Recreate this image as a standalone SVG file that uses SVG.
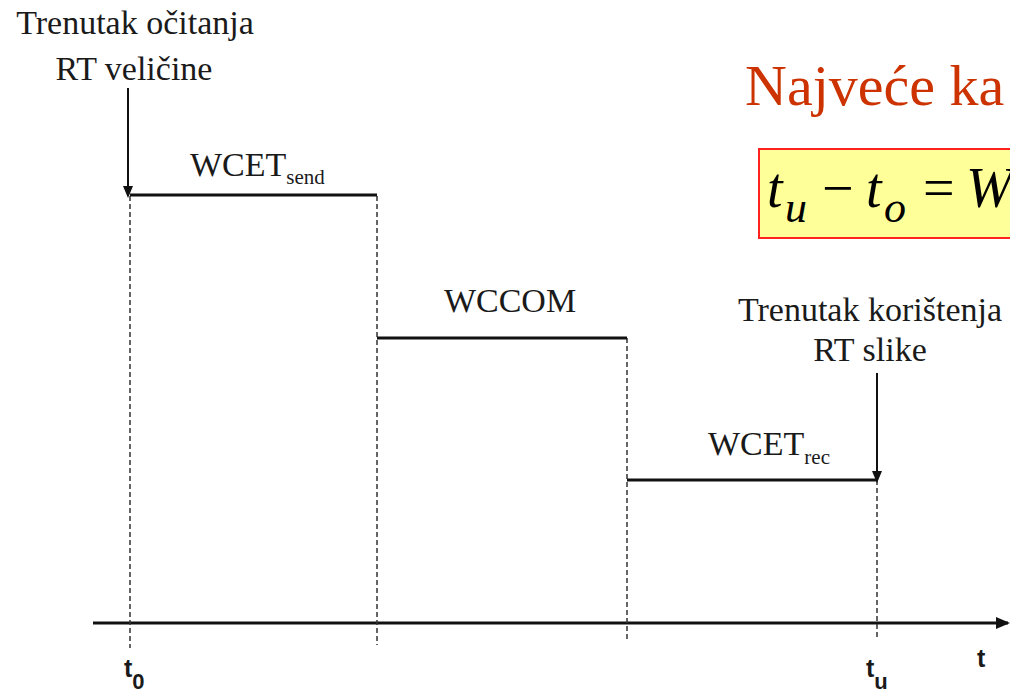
<svg xmlns="http://www.w3.org/2000/svg" width="1010" height="691" viewBox="0 0 1010 691">
<style>
.lbl{font-family:"Liberation Serif","Times New Roman",serif;font-size:34px;fill:#1a1a1a}
.sub{font-size:21px}
.ax{font-family:"Liberation Sans",Arial,sans-serif;font-size:25px;font-weight:bold;fill:#1a1a1a}
.seg{stroke:#111;stroke-width:3;fill:none}
.dash{stroke:#333;stroke-width:1.5;stroke-dasharray:5,3;fill:none}
.math{font-family:"Liberation Serif","Times New Roman",serif;font-style:italic;font-size:56px;fill:#000}
.mathsub{font-family:"Liberation Serif","Times New Roman",serif;font-style:italic;font-size:44px;fill:#000}
.op{font-family:"Liberation Serif","Times New Roman",serif;font-size:56px;fill:#000}
</style>
<defs>
<marker id="ah" markerWidth="12" markerHeight="12" refX="10" refY="6" orient="auto" markerUnits="userSpaceOnUse" viewBox="0 0 12 12">
<path d="M0,1 L12,6 L0,11 z" fill="#111"/>
</marker>
<marker id="ah2" markerWidth="14" markerHeight="14" refX="12" refY="7" orient="auto" markerUnits="userSpaceOnUse" viewBox="0 0 14 14">
<path d="M0,1 L14,7 L0,13 z" fill="#111"/>
</marker>
</defs>
<rect width="1010" height="691" fill="#fff"/>
<g id="title">
<text x="745" y="105" font-family="Liberation Serif,serif" font-size="58" fill="#cc3300">Najveće ka</text>
</g>
<g id="formula">
<rect x="759" y="149" width="260" height="89" fill="#ffff99" stroke="#ff2020" stroke-width="2"/>
<text x="767" y="207" class="math">t</text>
<text x="785" y="222" class="mathsub">u</text>
<text x="822" y="207" class="op">−</text>
<text x="866" y="207" class="math">t</text>
<text x="884" y="222" class="mathsub">o</text>
<text x="923" y="207" class="op">=</text>
<text x="966" y="207" class="math">W</text>
</g>
<g id="connectors">
<line x1="93" y1="623" x2="1008" y2="623" class="seg" stroke-width="2.5" marker-end="url(#ah2)"/>
<line x1="130" y1="196" x2="130" y2="648" class="dash"/>
<line x1="377" y1="196" x2="377" y2="645" class="dash"/>
<line x1="627" y1="338" x2="627" y2="640" class="dash"/>
<line x1="877" y1="480" x2="877" y2="640" class="dash"/>
<line x1="128" y1="88" x2="128" y2="196" stroke="#111" stroke-width="2" marker-end="url(#ah)"/>
<line x1="877" y1="373" x2="877" y2="481" stroke="#111" stroke-width="2" marker-end="url(#ah)"/>
</g>
<g id="send">
<line x1="130" y1="195" x2="377" y2="195" class="seg"/>
<text x="190" y="176" class="lbl">WCET<tspan class="sub" dy="8">send</tspan></text>
</g>
<g id="com">
<line x1="377" y1="338" x2="627" y2="338" class="seg"/>
<text x="510" y="312" class="lbl" text-anchor="middle">WCCOM</text>
</g>
<g id="rec">
<line x1="627" y1="480" x2="877" y2="480" class="seg"/>
<text x="708" y="455" class="lbl">WCET<tspan class="sub" dy="9">rec</tspan></text>
</g>
<g id="read">
<text x="135" y="34" class="lbl" text-anchor="middle">Trenutak očitanja</text>
<text x="134" y="80" class="lbl" text-anchor="middle">RT veličine</text>
</g>
<g id="use">
<text x="870" y="321" class="lbl" text-anchor="middle">Trenutak korištenja</text>
<text x="870" y="361" class="lbl" text-anchor="middle">RT slike</text>
</g>
<g id="axis-labels">
<text x="124" y="677" class="ax">t<tspan font-size="22" dy="12">0</tspan></text>
<text x="866" y="677" class="ax">t<tspan font-size="22" dy="12">u</tspan></text>
<text x="977" y="667" class="ax">t</text>
</g>
</svg>
